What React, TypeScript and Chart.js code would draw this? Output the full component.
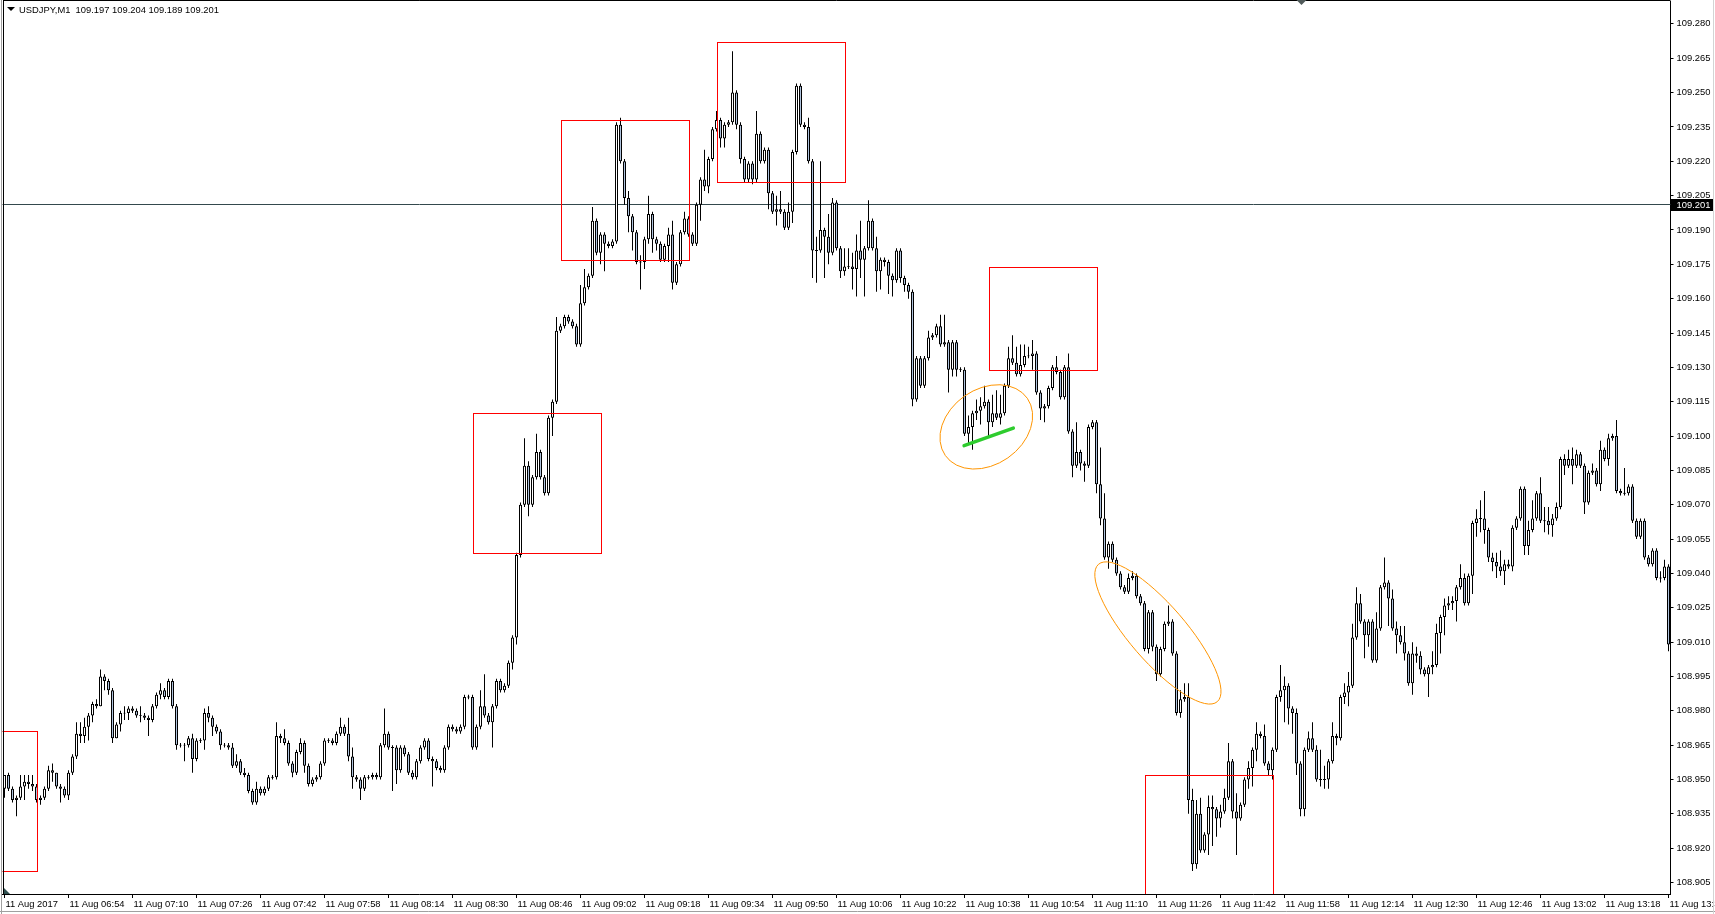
import React, { useEffect, useRef } from "react";
import { Chart, registerables } from "chart.js";

Chart.register(...registerables);

const FONT = "'Liberation Sans', Arial, sans-serif";
const FONT_SIZE = 9.4;

// ---- header / current price ----
const SYMBOL = "USDJPY,M1";
const HEADER_VALUES = ["109.197", "109.204", "109.189", "109.201"];
const BID_PRICE = 109.201;

// ---- candles: values in pips (0.001) relative to 109.000, one per minute from 11 Aug 06:38 ----
const PRICE_BASE = 109.0;
const PIP = 0.001;
const FIRST_OPEN = -54;
const closes = [
  -48, -54, -59, -58, -53, -51, -52, -53, -59, -58, -54, -46, -47, -53, -54, -57, -47, -40, -30, -31,
  -27, -22, -17, -18, -5, -7, -11, -32, -26, -21, -21, -19, -20, -22, -22, -23, -24, -18, -13, -11,
  -14, -7, -18, -35, -35, -35, -32, -41, -33, -33, -21, -23, -27, -29, -35, -35, -36, -44, -42, -47,
  -48, -55, -60, -54, -56, -54, -49, -49, -31, -32, -34, -43, -47, -38, -34, -44, -52, -50, -49, -43,
  -33, -33, -34, -30, -27, -30, -40, -49, -50, -54, -49, -49, -48, -49, -35, -30, -36, -36, -46, -36,
  -39, -47, -49, -42, -36, -33, -41, -42, -45, -46, -36, -27, -28, -29, -27, -14, -14, -36, -27, -18,
  -22, -25, -18, -7, -11, -9, 1, 12, 48, 70, 87, 70, 82, 93, 82, 75, 108, 115, 146, 148,
  152, 150, 148, 140, 158, 165, 170, 194, 180, 188, 184, 183, 185, 236, 220, 204, 196, 189, 176, 176,
  186, 197, 186, 184, 177, 183, 188, 167, 175, 189, 195, 188, 184, 201, 212, 209, 221, 234, 238, 230,
  236, 237, 250, 236, 221, 212, 219, 212, 232, 220, 225, 206, 198, 199, 198, 191, 198, 224, 253, 236,
  235, 220, 181, 181, 190, 187, 180, 202, 182, 172, 174, 174, 173, 181, 177, 182, 194, 182, 172, 177,
  176, 170, 168, 181, 169, 166, 163, 116, 134, 122, 134, 143, 144, 148, 140, 141, 129, 141, 129, 129,
  101, 104, 110, 111, 113, 115, 106, 110, 108, 110, 122, 134, 132, 127, 131, 135, 135, 136, 119, 112,
  113, 121, 130, 128, 117, 130, 102, 87, 93, 88, 87, 104, 106, 79, 64, 47, 53, 46, 40, 34,
  32, 38, 39, 30, 27, 7, 23, 8, -4, 7, 18, 19, 5, -21, -15, -14, -59, -87, -65, -81,
  -74, -62, -63, -67, -64, -58, -42, -64, -67, -61, -50, -45, -37, -30, -31, -43, -46, -37, -14, -11,
  -9, -19, -21, -43, -63, -37, -32, -37, -50, -50, -50, -42, -31, -32, -14, -12, -9, 12, 27, 19,
  13, 19, 2, 16, 34, 36, 29, 16, 13, 10, 5, -8, 5, 4, -2, -4, -1, 0, 14, 21,
  26, 27, 28, 34, 38, 27, 39, 62, 64, 64, 59, 47, 45, 43, 41, 44, 43, 60, 64, 77,
  52, 59, 64, 75, 63, 63, 61, 64, 69, 90, 87, 90, 87, 92, 87, 71, 84, 85, 79, 94,
  90, 99, 100, 76, 75, 75, 78, 63, 56, 63, 47, 44, 50, 38, 38, 43, 9,
];
const upperWicks = [
  0, 1, 1, 1, 5, 3, 3, 4, 1, 1, 1, 2, 3, 0, 1, 1, 1, 1, 5, 5,
  4, 1, 1, 2, 3, 1, 1, 1, 1, 1, 3, 1, 1, 1, 4, 1, 1, 1, 1, 3,
  1, 1, 1, 1, 1, 1, 1, 2, 1, 1, 2, 3, 1, 1, 1, 1, 1, 2, 3, 1,
  2, 1, 1, 3, 1, 1, 1, 1, 6, 1, 4, 1, 1, 1, 2, 1, 1, 1, 1, 1,
  1, 1, 1, 1, 4, 1, 7, 4, 1, 1, 1, 1, 1, 1, 1, 11, 1, 1, 1, 1,
  1, 1, 1, 1, 1, 1, 1, 1, 1, 1, 1, 1, 1, 1, 1, 1, 1, 1, 1, 7,
  14, 1, 1, 1, 1, 1, 1, 1, 1, 1, 12, 2, 1, 8, 1, 1, 1, 1, 6, 1,
  1, 1, 1, 1, 8, 8, 1, 6, 1, 1, 1, 1, 1, 1, 3, 1, 3, 1, 1, 3,
  1, 8, 1, 1, 1, 1, 3, 6, 1, 1, 3, 1, 1, 1, 1, 13, 1, 1, 4, 1,
  1, 1, 18, 1, 1, 1, 1, 1, 10, 1, 1, 1, 1, 6, 8, 1, 4, 1, 1, 1,
  1, 4, 1, 6, 30, 1, 10, 2, 1, 1, 8, 8, 6, 7, 13, 1, 9, 1, 5, 1,
  1, 1, 1, 1, 1, 1, 1, 1, 1, 1, 1, 3, 1, 1, 5, 12, 1, 1, 1, 1,
  1, 5, 1, 5, 4, 7, 1, 8, 10, 8, 1, 5, 10, 7, 9, 5, 4, 6, 1, 1,
  1, 1, 1, 5, 1, 1, 6, 1, 13, 1, 1, 1, 1, 1, 16, 11, 1, 1, 1, 1,
  1, 2, 2, 1, 1, 1, 1, 1, 1, 1, 1, 7, 1, 1, 4, 6, 6, 5, 6, 7,
  1, 5, 5, 1, 3, 4, 8, 1, 8, 1, 1, 3, 1, 5, 1, 5, 1, 1, 1, 11,
  4, 1, 1, 2, 1, 1, 3, 7, 2, 13, 6, 1, 6, 1, 1, 4, 6, 6, 7, 4,
  1, 1, 1, 7, 1, 11, 1, 4, 3, 4, 7, 1, 5, 3, 2, 1, 1, 6, 4, 1,
  3, 3, 2, 1, 6, 2, 1, 1, 4, 8, 12, 1, 2, 4, 7, 2, 2, 1, 1, 1,
  1, 4, 8, 1, 7, 6, 6, 2, 2, 1, 2, 4, 5, 2, 1, 1, 1, 3, 1, 4,
  1, 2, 1, 7, 1, 11, 1, 1, 1, 1, 1, 1, 1, 1, 3, 3, 1,
];
const lowerWicks = [
  4, 1, 1, 7, 1, 6, 2, 2, 1, 2, 1, 1, 4, 1, 6, 1, 2, 1, 1, 3,
  3, 6, 3, 1, 0, 4, 2, 2, 0, 3, 3, 3, 1, 1, 3, 1, 7, 1, 1, 2,
  1, 1, 1, 2, 1, 7, 1, 6, 1, 1, 4, 2, 4, 1, 2, 1, 1, 1, 1, 1,
  1, 1, 1, 1, 1, 1, 1, 1, 1, 2, 1, 1, 2, 1, 1, 3, 1, 1, 1, 1,
  1, 1, 1, 1, 1, 1, 2, 5, 1, 5, 1, 1, 1, 1, 1, 1, 1, 19, 6, 1,
  1, 1, 1, 1, 1, 1, 1, 11, 1, 1, 1, 1, 1, 1, 1, 1, 1, 1, 1, 1,
  1, 1, 11, 1, 1, 1, 1, 3, 3, 1, 1, 5, 1, 1, 1, 1, 1, 8, 1, 1,
  1, 1, 1, 1, 1, 1, 1, 1, 1, 5, 12, 1, 1, 1, 1, 3, 7, 8, 1, 12,
  3, 2, 6, 3, 1, 1, 7, 3, 1, 1, 1, 1, 1, 1, 7, 2, 3, 1, 1, 4,
  4, 1, 1, 2, 2, 1, 1, 2, 1, 1, 1, 7, 1, 6, 1, 1, 1, 5, 1, 1,
  1, 1, 12, 14, 1, 18, 5, 1, 1, 3, 2, 1, 9, 12, 8, 16, 1, 1, 9, 8,
  2, 8, 7, 1, 2, 3, 3, 3, 1, 1, 1, 1, 1, 1, 1, 1, 10, 3, 3, 1,
  1, 4, 10, 3, 6, 1, 6, 2, 1, 3, 1, 1, 1, 1, 1, 1, 1, 6, 1, 5,
  6, 1, 1, 1, 1, 1, 1, 5, 1, 3, 7, 1, 1, 4, 3, 1, 5, 1, 1, 1,
  1, 1, 1, 1, 1, 1, 2, 2, 3, 1, 1, 1, 1, 1, 2, 1, 6, 3, 2, 1,
  1, 9, 16, 8, 4, 1, 1, 3, 16, 1, 1, 4, 8, 5, 1, 1, 2, 4, 1, 2,
  14, 7, 9, 5, 3, 3, 1, 1, 1, 3, 4, 4, 1, 3, 1, 3, 6, 1, 1, 1,
  10, 5, 1, 1, 1, 1, 12, 1, 8, 1, 3, 1, 5, 3, 2, 1, 10, 3, 1, 9,
  8, 2, 3, 9, 1, 1, 1, 8, 6, 6, 6, 2, 4, 5, 2, 6, 1, 2, 1, 1,
  4, 4, 1, 1, 1, 5, 4, 5, 1, 1, 4, 1, 8, 1, 1, 5, 1, 1, 1, 3,
  1, 3, 1, 1, 1, 1, 1, 1, 1, 1, 1, 1, 1, 1, 2, 1, 3,
];

// ---- axes ----
const TICK_STEP = 16; // one time label every 16 candles
const tickLabels = [
  "11 Aug 2017", "11 Aug 06:54", "11 Aug 07:10", "11 Aug 07:26", "11 Aug 07:42", "11 Aug 07:58",
  "11 Aug 08:14", "11 Aug 08:30", "11 Aug 08:46", "11 Aug 09:02", "11 Aug 09:18", "11 Aug 09:34",
  "11 Aug 09:50", "11 Aug 10:06", "11 Aug 10:22", "11 Aug 10:38", "11 Aug 10:54", "11 Aug 11:10",
  "11 Aug 11:26", "11 Aug 11:42", "11 Aug 11:58", "11 Aug 12:14", "11 Aug 12:30", "11 Aug 12:46",
  "11 Aug 13:02", "11 Aug 13:18", "11 Aug 13:34",
];
const Y_MIN = 108.9;
const Y_MAX = 109.29;
const yTicks = [
  108.905, 108.92, 108.935, 108.95, 108.965, 108.98, 108.995, 109.01, 109.025, 109.04, 109.055,
  109.07, 109.085, 109.1, 109.115, 109.13, 109.145, 109.16, 109.175, 109.19, 109.205, 109.22,
  109.235, 109.25, 109.265, 109.28,
];

// ---- drawn objects (time index / price) ----
const rectangles = [
  { from: -3, to: 8.0, low: 108.91, high: 108.971 },
  { from: 117, to: 149, low: 109.049, high: 109.11 },
  { from: 139, to: 171, low: 109.177, high: 109.238 },
  { from: 178, to: 210, low: 109.211, high: 109.272 },
  { from: 246, to: 273, low: 109.129, high: 109.174 },
  { from: 285, to: 317, low: 108.88, high: 108.952 },
];
const ellipses = [
  { from: 235.2, p1: 109.0915, to: 255.7, p2: 109.1165, ratio: 0.755 },
  { from: 273.5, p1: 109.044, to: 303.2, p2: 108.984, ratio: 0.31 },
];
const trendLines = [{ from: 239.9, p1: 109.0958, to: 252.2, p2: 109.1035 }];

const BULL = "#ffffff";
const BEAR = "#b0c4de";

const overlayPlugin = {
  id: "mt4Overlay",
  beforeDatasetsDraw(chart: any) {
    const { ctx, chartArea: a, scales } = chart;
    const y = Math.floor(scales.y.getPixelForValue(BID_PRICE)) + 0.5;
    ctx.save();
    ctx.strokeStyle = "#34494d";
    ctx.lineWidth = 1;
    ctx.beginPath();
    ctx.moveTo(a.left, y);
    ctx.lineTo(a.right, y);
    ctx.stroke();
    ctx.restore();
  },
  afterDatasetsDraw(chart: any) {
    const { ctx, chartArea: a, scales } = chart;
    const X = (v: number) => scales.x.getPixelForValue(v);
    const Y = (v: number) => scales.y.getPixelForValue(v);
    ctx.save();
    ctx.beginPath();
    ctx.rect(a.left, a.top, a.right - a.left, a.bottom - a.top);
    ctx.clip();
    ctx.strokeStyle = "#ff0000";
    ctx.lineWidth = 1;
    rectangles.forEach((r) => {
      const x1 = Math.round(X(r.from)) + 0.5;
      const x2 = Math.round(X(r.to)) + 0.5;
      const y1 = Math.round(Y(r.high)) + 0.5;
      const y2 = Math.round(Y(r.low)) + 0.5;
      ctx.strokeRect(x1, y1, x2 - x1, y2 - y1);
    });
    ctx.strokeStyle = "#ff9500";
    ellipses.forEach((e) => {
      const ax = X(e.from), ay = Y(e.p1), bx = X(e.to), by = Y(e.p2);
      const cx = (ax + bx) / 2, cy = (ay + by) / 2;
      const ra = Math.hypot(bx - ax, by - ay) / 2;
      const ang = Math.atan2(by - ay, bx - ax);
      ctx.beginPath();
      ctx.ellipse(cx, cy, ra, ra * e.ratio, ang, 0, Math.PI * 2);
      ctx.stroke();
    });
    ctx.strokeStyle = "#2ecc2e";
    ctx.lineWidth = 3.5;
    ctx.lineCap = "round";
    trendLines.forEach((t) => {
      ctx.beginPath();
      ctx.moveTo(X(t.from), Y(t.p1));
      ctx.lineTo(X(t.to), Y(t.p2));
      ctx.stroke();
    });
    ctx.restore();
  },
  afterDraw(chart: any) {
    const { ctx, chartArea: a, scales, width, height } = chart;
    ctx.save();
    // frame
    ctx.lineWidth = 1;
    ctx.strokeStyle = "#a0a0a0";
    ctx.beginPath();
    ctx.moveTo(1.5, 0);
    ctx.lineTo(1.5, height);
    ctx.moveTo(0, 911.5);
    ctx.lineTo(width, 911.5);
    ctx.stroke();
    ctx.strokeStyle = "#d4d4d4";
    ctx.beginPath();
    ctx.moveTo(1713.5, 0);
    ctx.lineTo(1713.5, height);
    ctx.stroke();
    ctx.strokeStyle = "#000";
    ctx.beginPath();
    ctx.moveTo(3.5, 0);
    ctx.lineTo(3.5, a.bottom);
    ctx.moveTo(3, 0.5);
    ctx.lineTo(a.right, 0.5);
    ctx.stroke();
    // chart-end marker bottom-left
    ctx.fillStyle = "#2f4f4f";
    ctx.beginPath();
    ctx.moveTo(4, a.bottom - 6);
    ctx.lineTo(4, a.bottom);
    ctx.lineTo(10, a.bottom);
    ctx.closePath();
    ctx.fill();
    // chart shift marker at top
    ctx.fillStyle = "#505a5a";
    ctx.beginPath();
    ctx.moveTo(1296.5, 0);
    ctx.lineTo(1306.5, 0);
    ctx.lineTo(1301.5, 5);
    ctx.closePath();
    ctx.fill();
    // bid price box on axis
    const by = scales.y.getPixelForValue(BID_PRICE);
    ctx.fillStyle = "#000";
    ctx.fillRect(Math.round(a.right), Math.round(by) - 6, 42, 12);
    ctx.fillStyle = "#fff";
    ctx.font = `${FONT_SIZE}px ${FONT}`;
    ctx.textBaseline = "middle";
    ctx.textAlign = "left";
    ctx.fillText(BID_PRICE.toFixed(3), a.right + 6, Math.round(by) + 0.5);
    // header
    ctx.fillStyle = "#000";
    ctx.beginPath();
    ctx.moveTo(7, 7);
    ctx.lineTo(15, 7);
    ctx.lineTo(11, 11);
    ctx.closePath();
    ctx.fill();
    ctx.textBaseline = "alphabetic";
    ctx.font = `${FONT_SIZE}px ${FONT}`;
    ctx.fillText(`${SYMBOL}  ${HEADER_VALUES.join(" ")}`, 19, 12.5);
    ctx.restore();
  },
};

export default function App() {
  const canvasRef = useRef<HTMLCanvasElement | null>(null);

  useEffect(() => {
    const canvas = canvasRef.current;
    if (!canvas) return;
    const n = closes.length;
    const opens = closes.map((c, i) => (i === 0 ? FIRST_OPEN : closes[i - 1]));
    const price = (v: number) => +(PRICE_BASE + v * PIP).toFixed(4);
    const bodyData: any[] = [];
    const wickData: any[] = [];
    const bodyColors: string[] = [];
    for (let i = 0; i < n; i++) {
      const o = opens[i];
      const c = closes[i];
      const top = Math.max(o, c);
      const bot = Math.min(o, c);
      let b0 = price(bot);
      let b1 = price(top);
      if (b1 - b0 < 0.0004) {
        const m = (b0 + b1) / 2;
        b0 = m - 0.0002;
        b1 = m + 0.0002;
      }
      bodyData.push({ x: i, y: [b0, b1] });
      wickData.push({ x: i, y: [price(bot - lowerWicks[i]), price(top + upperWicks[i])] });
      bodyColors.push(c >= o ? BULL : BEAR);
    }

    const chart = new Chart(canvas, {
      type: "bar",
      data: {
        datasets: [
          {
            label: "wick",
            data: wickData,
            backgroundColor: "#000",
            borderWidth: 0,
            grouped: false,
            maxBarThickness: 1,
            categoryPercentage: 1,
            barPercentage: 1,
            inflateAmount: 0,
            order: 2,
          } as any,
          {
            label: "body",
            data: bodyData,
            backgroundColor: bodyColors,
            borderColor: "#000",
            borderWidth: 1,
            borderSkipped: false,
            grouped: false,
            maxBarThickness: 3,
            categoryPercentage: 1,
            barPercentage: 1,
            inflateAmount: 0,
            order: 1,
          } as any,
        ],
      },
      options: {
        responsive: false,
        animation: false,
        devicePixelRatio: 1,
        events: [],
        layout: { padding: { left: 2.5, top: 1, right: 0, bottom: 0 } },
        plugins: { legend: { display: false }, tooltip: { enabled: false } },
        scales: {
          x: {
            type: "linear",
            min: -0.5,
            max: n - 0.5,
            offset: false,
            afterBuildTicks: (axis: any) => {
              axis.ticks = tickLabels.map((_, k) => ({ value: k * TICK_STEP }));
            },
            afterFit: (s: any) => {
              s.height = 20;
              s.paddingLeft = 0;
              s.paddingRight = 0;
            },
            grid: {
              display: true,
              drawOnChartArea: false,
              drawTicks: true,
              tickLength: 4,
              color: "#000",
              offset: false,
            },
            border: { display: true, color: "#000", width: 1 },
            ticks: {
              autoSkip: false,
              maxRotation: 0,
              minRotation: 0,
              align: "start",
              padding: 1,
              labelOffset: 1,
              color: "#000",
              font: { family: FONT, size: FONT_SIZE },
              callback: (v: any) => tickLabels[Math.round(Number(v) / TICK_STEP)] ?? "",
            },
          },
          y: {
            type: "linear",
            position: "right",
            min: Y_MIN,
            max: Y_MAX,
            afterBuildTicks: (axis: any) => {
              axis.ticks = yTicks.map((v) => ({ value: v }));
            },
            afterFit: (s: any) => {
              s.width = 44.5;
              s.paddingTop = 0;
              s.paddingBottom = 0;
            },
            grid: {
              display: true,
              drawOnChartArea: false,
              drawTicks: true,
              tickLength: 3,
              color: "#000",
            },
            border: { display: true, color: "#000", width: 1 },
            ticks: {
              padding: 3,
              color: "#000",
              font: { family: FONT, size: FONT_SIZE },
              callback: (v: any) => Number(v).toFixed(3),
            },
          },
        },
      } as any,
      plugins: [overlayPlugin],
    });
    return () => chart.destroy();
  }, []);

  return (
    <div style={{ position: "fixed", left: 0, top: 0, width: 1715, height: 914, background: "#fff" }}>
      <canvas ref={canvasRef} width={1715} height={914} style={{ display: "block", width: 1715, height: 914 }} />
    </div>
  );
}
